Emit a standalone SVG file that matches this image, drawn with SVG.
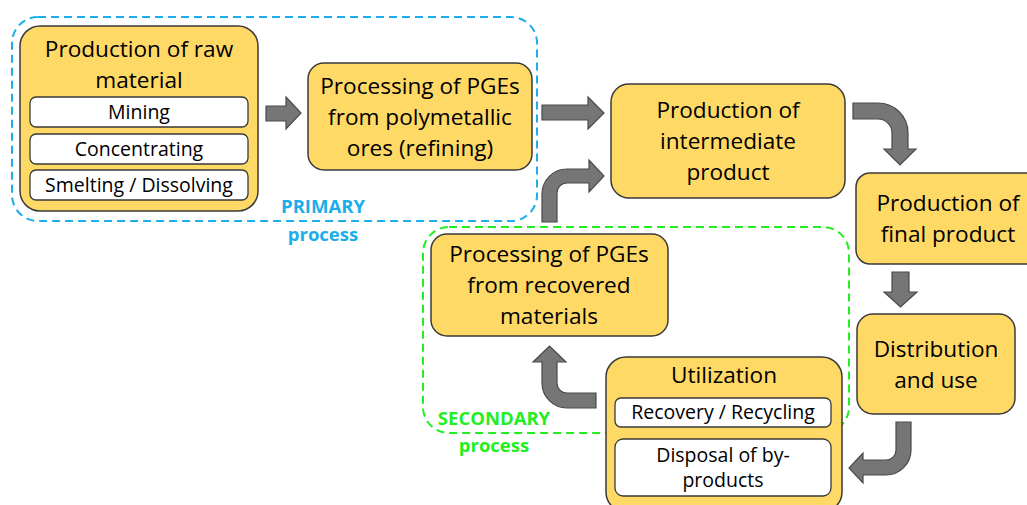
<svg xmlns="http://www.w3.org/2000/svg" width="1027" height="505" viewBox="0 0 1027 505">
<style>
.node{fill:#FFD966;stroke:#3a3a3a;stroke-width:1.5}
.sub{fill:#ffffff;stroke:#3a3a3a;stroke-width:1.3}
.t{font-family:"Open Sans","Liberation Sans",sans-serif;font-size:22.6px;fill:#000;text-anchor:middle}
.s{font-family:"Open Sans","Liberation Sans",sans-serif;font-size:19.5px;fill:#000;text-anchor:middle}
.arr{fill:#767676;stroke:#4a4a4a;stroke-width:1.2;stroke-linejoin:miter}
.lab{font-family:"Open Sans","Liberation Sans",sans-serif;font-size:18.5px;font-weight:bold;text-anchor:middle}
</style>
<rect width="1027" height="505" fill="#ffffff"/>
<g id="groups">
<rect x="12" y="17" width="525" height="204" rx="26" fill="none" stroke="#1AAEEA" stroke-width="2" stroke-dasharray="8,5"/>
<rect x="423" y="227" width="426" height="206" rx="26" fill="none" stroke="#22EE22" stroke-width="2" stroke-dasharray="8,5"/>
<text class="lab" x="323" y="213" fill="#1AAEEA">PRIMARY</text>
<text class="lab" x="323" y="241" fill="#1AAEEA">process</text>
<text class="lab" x="494" y="425" fill="#22EE22">SECONDARY</text>
<text class="lab" x="494" y="452" fill="#22EE22">process</text>
</g>
<g id="connectors">
<path class="arr" d="M266,106 L286,106 L286,97 L301,113 L286,129 L286,121 L266,121 Z"/>
<path class="arr" d="M542,105 L588,105 L588,97 L604,113 L588,129 L588,120 L542,120 Z"/>
<path class="arr" d="M542,222 L542,194 A25,25 0 0 1 567,169 L589,169 L589,160 L604,176 L589,192 L589,183 L567,183 A10,10 0 0 0 557,193 L557,222 Z"/>
<path class="arr" d="M853,103 L878,103 A30,30 0 0 1 908,133 L908,149 L916,149 L900,165 L884,149 L892,149 L892,133 A14,14 0 0 0 878,119 L853,119 Z"/>
<path class="arr" d="M892,272 L909,272 L909,292 L917,292 L900.5,307 L884,292 L892,292 Z"/>
<path class="arr" d="M896,422 L911,422 L911,450 A25,25 0 0 1 886,475 L863,475 L863,483 L849,468 L863,453 L863,460 L886,460 A10,10 0 0 0 896,450 Z"/>
<path class="arr" d="M596,393 L567,393 A10,10 0 0 1 557,383 L557,362 L566,362 L549.5,346 L533,362 L542,362 L542,383 A25,25 0 0 0 567,408 L596,408 Z"/>
</g>
<g id="raw-material">
<rect class="node" x="20" y="26" width="238" height="185" rx="20"/>
<text class="t" x="139" y="57">Production of raw</text>
<text class="t" x="139" y="88">material</text>
<rect class="sub" x="30" y="97" width="218" height="30" rx="6"/>
<text class="s" x="139" y="119">Mining</text>
<rect class="sub" x="30" y="134" width="218" height="30" rx="6"/>
<text class="s" x="139" y="156">Concentrating</text>
<rect class="sub" x="30" y="170" width="218" height="30" rx="6"/>
<text class="s" x="139" y="192">Smelting / Dissolving</text>
</g>
<g id="processing-ores">
<rect class="node" x="308" y="63" width="224" height="107" rx="16"/>
<text class="t" x="420" y="94">Processing of PGEs</text>
<text class="t" x="420" y="125">from polymetallic</text>
<text class="t" x="420" y="156">ores (refining)</text>
</g>
<g id="intermediate">
<rect class="node" x="611" y="84" width="234" height="114" rx="18"/>
<text class="t" x="728" y="118">Production of</text>
<text class="t" x="728" y="149">intermediate</text>
<text class="t" x="728" y="180">product</text>
</g>
<g id="final">
<rect class="node" x="856" y="173" width="184" height="91" rx="14"/>
<text class="t" x="948" y="211">Production of</text>
<text class="t" x="948" y="242">final product</text>
</g>
<g id="distribution">
<rect class="node" x="857" y="314" width="158" height="100" rx="16"/>
<text class="t" x="936" y="357">Distribution</text>
<text class="t" x="936" y="388">and use</text>
</g>
<g id="recovered">
<rect class="node" x="431" y="234" width="237" height="102" rx="16"/>
<text class="t" x="549" y="262">Processing of PGEs</text>
<text class="t" x="549" y="293">from recovered</text>
<text class="t" x="549" y="324">materials</text>
</g>
<g id="utilization">
<rect class="node" x="606" y="357" width="236" height="155" rx="20"/>
<text class="t" x="724" y="383">Utilization</text>
<rect class="sub" x="615" y="398" width="216" height="29" rx="6"/>
<text class="s" x="723" y="419">Recovery / Recycling</text>
<rect class="sub" x="615" y="439" width="216" height="57" rx="8"/>
<text class="s" x="723" y="462">Disposal of by-</text>
<text class="s" x="723" y="487">products</text>
</g>
</svg>
